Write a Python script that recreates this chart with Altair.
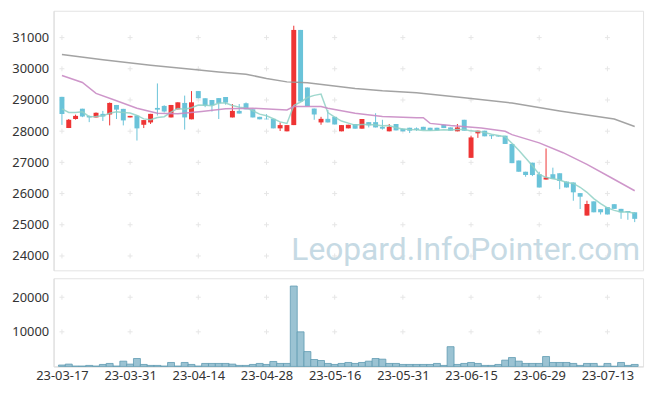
import altair as alt
import pandas as pd

# ---------------- data ----------------
tick_labels = ["23-03-17", "23-03-31", "23-04-14", "23-04-28", "23-05-16",
               "23-05-31", "23-06-15", "23-06-29", "23-07-13"]
tick_pos = [0, 10, 20, 30, 40, 50, 60, 70, 80]
price_ticks = [24000, 25000, 26000, 27000, 28000, 29000, 30000, 31000]
vol_ticks = [10000, 20000]

opens = [29100, 28100, 28390, 28720, 28490, 28440, 28555, 28535, 28840, 28715,
         28440, 28500, 28205, 28280, 28745, 28810, 28440, 28700, 28905, 28380,
         29285, 29055, 29000, 29060, 29095, 28440, 28650, 28895, 28700, 28460,
         28400, 28395, 28090, 27995, 28195, 31245, 29400, 28725, 28280, 28395,
         28460, 27995, 28090, 28230, 28080, 28290, 28290, 28140, 27995, 28230,
         28080, 28110, 28090, 28140, 28110, 28110, 28205, 28120, 27995, 28365,
         27145, 27930, 28015, 27870, 27860, 27855, 27590, 27060, 26700, 26990,
         26620, 26450, 26620, 26650, 26385, 26355, 26015, 25295, 25750, 25500,
         25565, 25660, 25510, 25440, 25400]
highs = [29100, 28390, 28530, 28720, 28500, 28600, 28650, 28920, 28840, 28715,
         28490, 28520, 28355, 28555, 29530, 28830, 28840, 28925, 29140, 29285,
         29285, 29055, 29000, 29060, 29095, 28870, 28870, 28920, 28700, 28460,
         28545, 28395, 28280, 28195, 31380, 31245, 29400, 28725, 28460, 28680,
         28460, 28195, 28205, 28230, 28390, 28290, 28575, 28365, 28230, 28230,
         28080, 28110, 28120, 28140, 28110, 28110, 28205, 28120, 28230, 28365,
         27855, 28015, 28015, 27870, 27860, 27855, 27590, 27060, 26700, 26990,
         26700, 27445, 26830, 26650, 26385, 26355, 26015, 25770, 25750, 25500,
         25565, 25660, 25510, 25440, 25400]
lows = [28200, 28100, 28370, 28450, 28290, 28440, 28325, 28185, 28390, 28185,
        28440, 27700, 28100, 28230, 28500, 28600, 28440, 28700, 28050, 28380,
        29055, 28770, 28630, 28390, 28850, 28440, 28565, 28700, 28440, 28380,
        28380, 28090, 28005, 27995, 28195, 28950, 28810, 28365, 28205, 28280,
        28215, 27995, 28090, 28080, 28080, 28120, 28120, 28050, 27995, 28025,
        27995, 27940, 28010, 28040, 28015, 28025, 28100, 28015, 27995, 28015,
        27145, 27785, 27835, 27750, 27825, 27590, 26975, 26700, 26540, 26560,
        26195, 26450, 26470, 26140, 26195, 25770, 25505, 25295, 25400, 25330,
        25330, 25510, 25190, 25160, 25085]
closes = [28550, 28370, 28490, 28470, 28440, 28590, 28470, 28905, 28690, 28345,
          28490, 28090, 28355, 28555, 28690, 28630, 28840, 28925, 28440, 28925,
          29055, 28820, 28830, 28895, 28915, 28650, 28565, 28700, 28440, 28380,
          28380, 28090, 28195, 28195, 31245, 28950, 28810, 28535, 28395, 28280,
          28215, 28195, 28205, 28080, 28390, 28185, 28120, 28080, 28140, 28025,
          27995, 28015, 28040, 28040, 28025, 28025, 28100, 28015, 28120, 28015,
          27800, 28015, 27835, 27840, 27830, 27590, 26975, 26700, 26595, 26595,
          26195, 26515, 26470, 26405, 26195, 26040, 25900, 25665, 25400, 25400,
          25330, 25510, 25400, 25400, 25190]
volumes = [400, 670, 100, 100, 290, 100, 570, 860, 100, 1520,
           670, 2290, 570, 290, 290, 100, 1140, 100, 1140, 570,
           100, 860, 860, 860, 860, 670, 290, 290, 570, 860,
           570, 1430, 860, 860, 23240, 10000, 4290, 2000, 1710, 860,
           570, 860, 1140, 860, 1140, 1520, 2290, 2100, 860, 860,
           570, 570, 570, 570, 570, 860, 290, 5710, 570, 860,
           1140, 860, 290, 290, 570, 1810, 2570, 1520, 860, 860,
           860, 2860, 1140, 1140, 1140, 860, 290, 860, 860, 50,
           860, 50, 1140, 290, 570]

# first four 5-day averages (need closes before the window)
ma5_head = [28715, 28600, 28600, 28620]

# 20-day average, read at a set of candles
ma20_idx = [0, 3, 5, 7.7, 11, 14, 17, 20.5, 24, 28, 33, 34, 38, 39, 43, 47,
            52, 53, 54, 57, 61.5, 65, 66, 70, 73.5, 77, 80.5, 84]
ma20_val = [29785, 29560, 29210, 29000, 28735, 28575, 28555, 28630, 28715,
            28735, 28680, 28790, 28790, 28735, 28575, 28470, 28430, 28430,
            28250, 28180, 28100, 27995, 27890, 27625, 27310, 26935, 26515, 26090]

# long average, read at a set of candles
mal_idx = [0, 6, 13, 19, 23, 27, 30, 33, 36, 43, 47, 52, 59, 66, 73, 81, 84]
mal_val = [30460, 30290, 30110, 29985, 29900, 29825, 29690, 29580, 29550,
           29370, 29295, 29230, 29075, 28900, 28650, 28390, 28150]

watermark = "Leopard.InfoPointer.com"

# ---------------- tables ----------------
n = len(closes)
df = pd.DataFrame({
    "idx": list(range(n)), "open": opens, "high": highs, "low": lows,
    "close": closes, "vol": volumes,
})
df["dir"] = ["up" if c >= o else "down" for o, c in zip(opens, closes)]
ma5 = df["close"].rolling(5).mean().tolist()
ma5[:4] = ma5_head
df["ma5"] = ma5

ma20_df = pd.DataFrame({"idx": ma20_idx, "v": ma20_val})
mal_df = pd.DataFrame({"idx": mal_idx, "v": mal_val})
cross_p = pd.DataFrame([{"idx": i, "v": v} for i in tick_pos for v in price_ticks])
cross_v = pd.DataFrame([{"idx": i, "v": v} for i in tick_pos for v in vol_ticks])
wm_df = pd.DataFrame({"t": [watermark]})

RED = "#ee3434"
CYAN = "#6ac3d9"
FONT = "Noto Sans"
W = 595

xscale = alt.Scale(domain=[-0.5, n - 0.5], nice=False, zero=False)
pscale = alt.Scale(domain=[23540, 31860], nice=False, zero=False)
vscale = alt.Scale(domain=[0, 25500], nice=False)
color = alt.Color("dir:N", scale=alt.Scale(domain=["up", "down"], range=[RED, CYAN]),
                  legend=None)

label_expr = "[" + ",".join(f"'{t}'" for t in tick_labels) + "][round(datum.value/10)]"

cross_shape = "M-1,0H1M0,-1V1"
CROSS_COLOR = "#e6e6e6"

yaxis_p = alt.Axis(values=price_ticks, format="d", grid=False, ticks=False,
                   domainColor="#dddddd", labelFontSize=13, labelColor="#333333",
                   labelFont=FONT, labelPadding=5, title=None)
yaxis_v = alt.Axis(values=vol_ticks, format="d", grid=False, ticks=False,
                   domainColor="#dddddd", labelFontSize=13, labelColor="#333333",
                   labelFont=FONT, labelPadding=5, title=None)

# ---------------- price panel ----------------
crosses_p = alt.Chart(cross_p).mark_point(
    shape=cross_shape, filled=False, stroke=CROSS_COLOR, strokeWidth=1, size=25, opacity=1
).encode(
    x=alt.X("idx:Q", scale=xscale, axis=None),
    y=alt.Y("v:Q", scale=pscale, axis=yaxis_p),
)

wm = alt.Chart(wm_df).mark_text(
    font="Roboto", fontSize=32, color="#c6dae4", align="right", baseline="alphabetic"
).encode(text="t:N", x=alt.value(592), y=alt.value(252))

base = alt.Chart(df)
wicks = base.mark_rule(strokeWidth=1).encode(
    x=alt.X("idx:Q", scale=xscale, axis=None),
    y=alt.Y("low:Q", scale=pscale, axis=yaxis_p),
    y2="high:Q",
    color=color,
)
bodies = base.mark_bar(size=5).encode(
    x=alt.X("idx:Q", scale=xscale, axis=None),
    y=alt.Y("open:Q", scale=pscale, axis=yaxis_p),
    y2="close:Q",
    color=color,
)
line5 = base.mark_line(color="#8fd1c5", strokeWidth=1.5, opacity=0.85).encode(
    x=alt.X("idx:Q", scale=xscale, axis=None),
    y=alt.Y("ma5:Q", scale=pscale, axis=yaxis_p),
)
line20 = alt.Chart(ma20_df).mark_line(color="#c98bc4", strokeWidth=1.5, opacity=0.9).encode(
    x=alt.X("idx:Q", scale=xscale, axis=None),
    y=alt.Y("v:Q", scale=pscale, axis=yaxis_p),
)
linel = alt.Chart(mal_df).mark_line(color="#999999", strokeWidth=1.5, opacity=0.9).encode(
    x=alt.X("idx:Q", scale=xscale, axis=None),
    y=alt.Y("v:Q", scale=pscale, axis=yaxis_p),
)

price = alt.layer(crosses_p, wm, wicks, bodies, line5, line20, linel).properties(
    width=W, height=262
)

# ---------------- volume panel ----------------
xaxis_v = alt.Axis(values=tick_pos, labelExpr=label_expr, grid=False, ticks=False,
                   domainColor="#dddddd", labelFontSize=13, labelColor="#333333",
                   labelFont=FONT, labelPadding=3, title=None)

crosses_v = alt.Chart(cross_v).mark_point(
    shape=cross_shape, filled=False, stroke=CROSS_COLOR, strokeWidth=1, size=25, opacity=1
).encode(
    x=alt.X("idx:Q", scale=xscale, axis=xaxis_v),
    y=alt.Y("v:Q", scale=vscale, axis=yaxis_v),
)
vbars = base.mark_bar(size=7, fill="#9bc3d3", stroke="#5f9bb1", strokeWidth=0.8).encode(
    x=alt.X("idx:Q", scale=xscale, axis=xaxis_v),
    y=alt.Y("vol:Q", scale=vscale, axis=yaxis_v),
)
volume = alt.layer(crosses_v, vbars).properties(width=W, height=89)

chart = alt.vconcat(price, volume, spacing=6).properties(
    padding={"left": 3, "top": 0, "right": 5, "bottom": 2},
    background="white",
).configure_view(stroke="#e3e3e3", strokeWidth=1)

chart.save("out.html", embed_options={"renderer": "svg", "actions": False})
